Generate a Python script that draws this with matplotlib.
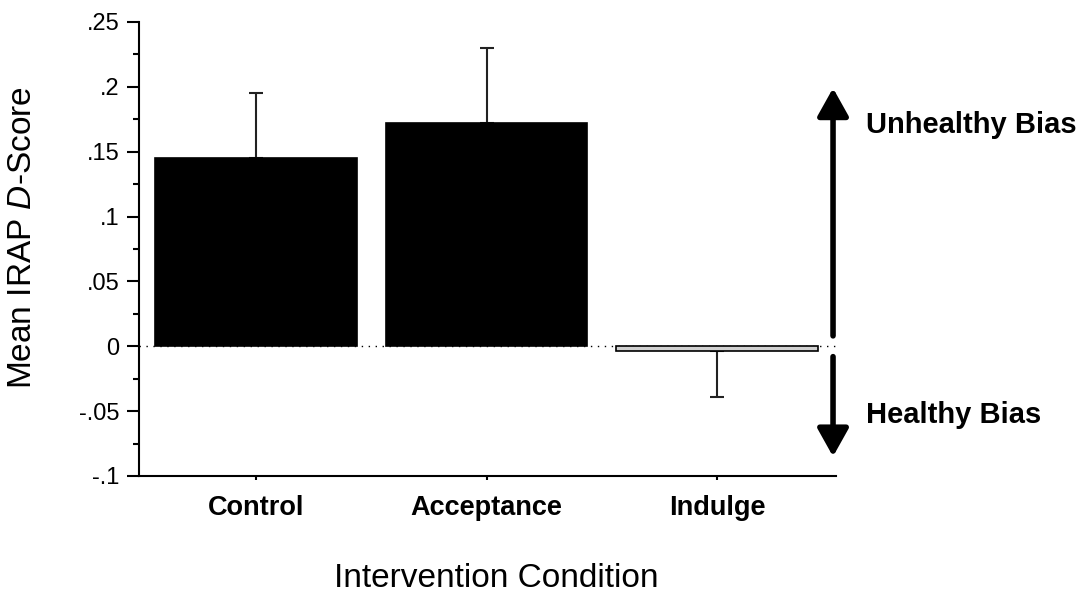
import matplotlib.pyplot as plt
from matplotlib.ticker import FuncFormatter, MultipleLocator

plt.rcParams['font.family'] = ['Liberation Sans', 'DejaVu Sans']
plt.rcParams['mathtext.fontset'] = 'custom'
plt.rcParams['mathtext.it'] = 'Liberation Sans:italic'
plt.rcParams['mathtext.rm'] = 'Liberation Sans'

# data
conditions = ['Control', 'Acceptance', 'Indulge']
means = [0.145, 0.172, -0.004]
errors = [0.050, 0.058, 0.035]
bar_colors = ['black', 'black', '#d0d0d0']

fig = plt.figure(figsize=(10.9, 5.94), dpi=100)
ax = fig.add_axes([0.1275, 0.1987, 0.6395, 0.7643])

x = range(len(conditions))
ax.bar(x, means, width=0.875, color=bar_colors, edgecolor='black', linewidth=1.2, zorder=2)

# one-sided error bars (away from zero)
lower = [e if m < 0 else 0 for m, e in zip(means, errors)]
upper = [e if m >= 0 else 0 for m, e in zip(means, errors)]
ax.errorbar(x, means, yerr=[lower, upper], fmt='none', ecolor='#222222',
            elinewidth=1.5, capsize=5, capthick=1.5, zorder=1)

# dotted zero line
ax.axhline(0, color='black', linestyle=(0, (1, 4)), linewidth=1, zorder=0)

ax.set_xlim(-0.508, 2.516)
ax.set_ylim(-0.1, 0.25)
ax.set_xticks(list(x))
ax.set_xticklabels(conditions, fontsize=19.5, fontweight='bold')
ax.yaxis.set_major_locator(MultipleLocator(0.05))
ax.yaxis.set_minor_locator(MultipleLocator(0.025))


def short_fmt(v, pos):
    if abs(v) < 1e-9:
        return '0'
    s = f'{v:g}'
    return s.replace('0.', '.')


ax.yaxis.set_major_formatter(FuncFormatter(short_fmt))
ax.tick_params(axis='y', which='major', length=9, width=1.5, labelsize=17, pad=5)
ax.tick_params(axis='y', which='minor', length=4, width=1.5)
ax.tick_params(axis='x', length=3, width=1.5, pad=11)

for side in ['top', 'right']:
    ax.spines[side].set_visible(False)
for side in ['left', 'bottom']:
    ax.spines[side].set_linewidth(1.5)

ax.set_ylabel('Mean IRAP $\\mathit{D}$-Score', fontsize=24)
ax.yaxis.set_label_coords(-0.145, 0.526)
ax.set_xlabel('Intervention Condition', fontsize=24, va='center')
ax.xaxis.set_label_coords(0.512, -0.225)

# bias arrows
arrow_x = 2.503
head = '-|>,head_length=1.7,head_width=0.95'
ax.annotate('', xy=(arrow_x, 0.199), xytext=(arrow_x, 0.008),
            arrowprops=dict(arrowstyle=head, color='black', lw=4,
                            shrinkA=0, shrinkB=0),
            annotation_clip=False)
ax.annotate('', xy=(arrow_x, -0.085), xytext=(arrow_x, -0.008),
            arrowprops=dict(arrowstyle=head, color='black', lw=4,
                            shrinkA=0, shrinkB=0),
            annotation_clip=False)
fig.text(866 / 1090, 1 - 125 / 594, 'Unhealthy Bias', fontsize=21,
         fontweight='bold', va='center', ha='left')
fig.text(866 / 1090, 1 - 415 / 594, 'Healthy Bias', fontsize=21,
         fontweight='bold', va='center', ha='left')

fig.savefig('out.png', dpi=100)
